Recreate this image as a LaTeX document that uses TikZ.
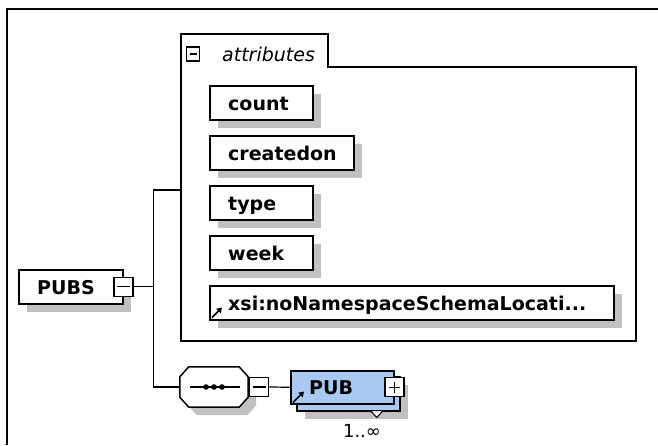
\documentclass[tikz,border=0pt]{standalone}
\usepackage{fontspec}
\setmainfont{DejaVu Sans}
\usetikzlibrary{positioning,shadows,arrows.meta}
\definecolor{pubblue}{RGB}{168,202,242}
\definecolor{shade}{RGB}{192,192,192}
\tikzset{
  box/.style={draw, line width=1.5pt, fill=white, anchor=north west, inner sep=0pt, minimum height=34pt},
  elem/.style={box, drop shadow={shadow xshift=8pt, shadow yshift=-8pt, fill=shade, opacity=1}},
  lbl/.style={anchor=west, xshift=19pt, inner sep=0pt, text height=15pt, text depth=0pt, font=\bfseries\fontsize{19}{22}\selectfont},
  toggle/.style={draw, line width=1.2pt, fill=white, minimum size=19pt, inner sep=0pt},
  minus/.style={toggle, path picture={\draw[line width=1.2pt] ([xshift=3pt]path picture bounding box.west) -- ([xshift=-3pt]path picture bounding box.east);}},
  plus/.style={toggle, path picture={
    \draw[line width=1.2pt] ([xshift=4pt]path picture bounding box.west) -- ([xshift=-4pt]path picture bounding box.east);
    \draw[line width=1.2pt] ([yshift=-4pt]path picture bounding box.north) -- ([yshift=4pt]path picture bounding box.south);}},
  ref/.style={-{Triangle[length=5pt,width=6pt]}, line width=1.6pt},
  wire/.style={line width=1.2pt}
}
\begin{document}
\begin{tikzpicture}[x=1pt,y=-1pt]
  \useasboundingbox (0,0) rectangle (658,445);
  \draw[line width=1.5pt] (7,445) |- (658,9);

  % attributes group
  \draw[line width=1.5pt] (181,341) |- (328,34) |- (636,67) |- cycle;
  \coordinate (attrin) at (181,190);
  \node[minus, minimum width=13pt, minimum height=14pt] (attrtoggle) at (193,54) {};
  \node[anchor=base west, inner sep=0pt, font=\itshape\fontsize{19}{22}\selectfont] (attrlbl) at (222,61) {attributes};
  \foreach \nm/\y/\w in {count/85/103, createdon/135/144, type/185/103, week/235/103}
    \node[elem, minimum width=\w pt, label={[lbl]west:\nm}] (\nm) at (209,\y) {};
  \node[elem, minimum width=404pt, label={[lbl]west:xsi:noNamespaceSchemaLocati...}] (xsi) at (209,285) {};
  \draw[ref] ([shift={(3,-3)}]xsi.south west) -- ++(10,-10);

  % root element
  \node[elem, minimum width=104pt, label={[lbl]west:PUBS}] (pubs) at (18,269) {};
  \node[minus] (pubstoggle) at (pubs.east) {};

  % sequence
  \node[minimum width=68pt, minimum height=40pt, inner sep=0pt] (seq) at (214,387) {};
  \draw[line width=1.5pt, fill=white, drop shadow={shadow xshift=8pt, shadow yshift=-8pt, fill=shade, opacity=1}]
    ([xshift=9pt]seq.north west) -- ([xshift=-9pt]seq.north east) -- ([yshift=-10pt]seq.north east)
    -- ([yshift=10pt]seq.south east) -- ([xshift=-9pt]seq.south east) -- ([xshift=9pt]seq.south west)
    -- ([yshift=10pt]seq.south west) -- ([yshift=-10pt]seq.north west) -- cycle;
  \draw[wire] ([xshift=10pt]seq.west) -- ([xshift=-8pt]seq.east);
  \foreach \dx in {-8,0,8}
    \fill ([xshift=\dx pt]seq.center) circle (2.8pt);
  \node[minus, anchor=west] (seqtoggle) at ([xshift=1pt]seq.east) {};

  % child element
  \node[elem, fill=pubblue, minimum width=103pt] (pubback) at (296,376) {};
  \node[box, fill=pubblue, minimum width=103pt, minimum height=33pt, label={[lbl]west:PUB}] (pub) at (290,370) {};
  \draw[ref] ([shift={(3,-2)}]pub.south west) -- ++(11,-11);
  \node[plus] (pubtoggle) at (pub.east) {};
  \draw[line width=1pt, fill=white] ([xshift=22pt,yshift=1pt]pubback.south) -- ++(13,0) -- ++(-6.5,7) -- cycle;
  \node[font=\fontsize{18}{20}\selectfont, inner sep=0pt] (mult) at (362,431) {1..∞};

  \draw[wire] (pubstoggle.east) -- ++(20,0) coordinate (fork);
  \draw[wire] (attrin) -| (fork) |- (seq.west);
  \draw[wire] (seqtoggle.east) -- (pub.west);
\end{tikzpicture}
\end{document}
